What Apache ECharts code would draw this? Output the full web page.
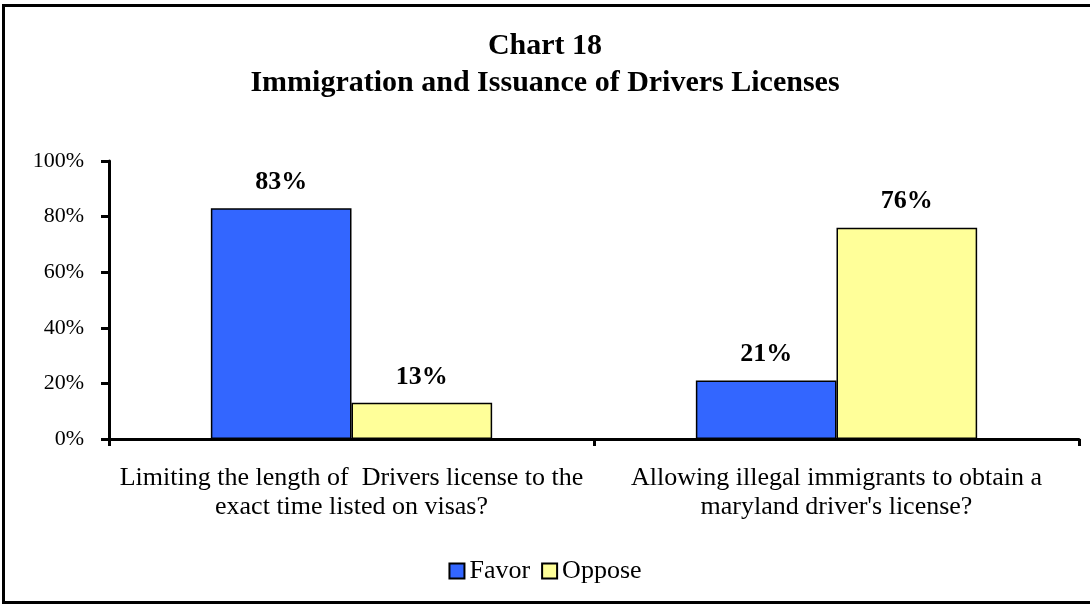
<!DOCTYPE html>
<html>
<head>
<meta charset="utf-8">
<script src="https://cdn.jsdelivr.net/npm/echarts@6/dist/echarts.min.js"></script>
<style>
  html, body { margin: 0; padding: 0; background: #fff; }
  #chart { width: 1090px; height: 604px; }
</style>
</head>
<body>
<div id="chart"></div>
<script>
const categories = [
  "Limiting the length of  Drivers license to the\nexact time listed on visas?",
  "Allowing illegal immigrants to obtain a\nmaryland driver's license?",
];
const favor = [83, 21];
const oppose = [13, 76];
const yTicks = [0, 20, 40, 60, 80, 100];

const serif = "'Liberation Serif', 'DejaVu Serif', serif";

const chart = echarts.init(document.getElementById("chart"));

const barLabel = {
  show: true,
  position: "top",
  distance: 13,
  formatter: (p) => p.value + "%",
  fontFamily: serif,
  fontWeight: "bold",
  fontSize: 26,
  color: "#000",
};

chart.setOption({
  animation: false,
  backgroundColor: "#fff",
  title: {
    text: "Chart 18\nImmigration and Issuance of Drivers Licenses",
    left: "center",
    top: 23,
    textStyle: {
      fontFamily: serif,
      fontWeight: "bold",
      fontSize: 30,
      lineHeight: 37,
      color: "#000",
    },
  },
  legend: {
    data: ["Favor", "Oppose"],
    top: 553,
    left: "center",
    itemWidth: 15,
    itemHeight: 15,
    itemGap: 11,
    icon: "rect",
    textStyle: { fontFamily: serif, fontSize: 26, color: "#000" },
  },
  grid: { left: 109, right: 11, top: 161, bottom: 165, containLabel: false },
  xAxis: {
    type: "category",
    data: categories,
    axisLine: { lineStyle: { color: "#000", width: 3 } },
    axisTick: { show: true, length: 7, lineStyle: { color: "#000", width: 3 } },
    axisLabel: {
      interval: 0,
      fontFamily: serif,
      fontSize: 26,
      lineHeight: 29,
      color: "#000",
      margin: 25,
    },
  },
  yAxis: {
    type: "value",
    min: yTicks[0],
    max: yTicks[yTicks.length - 1],
    interval: 20,
    axisLine: { show: true, lineStyle: { color: "#000", width: 3 } },
    axisTick: { show: true, length: 8, lineStyle: { color: "#000", width: 3 } },
    splitLine: { show: false },
    axisLabel: {
      fontFamily: serif,
      fontSize: 22,
      color: "#000",
      margin: 25,
      formatter: (v) => v + "%",
    },
  },
  series: [
    {
      name: "Favor",
      type: "bar",
      data: favor,
      barGap: "0%",
      barCategoryGap: "42%",
      itemStyle: { color: "#3366ff", borderColor: "#000", borderWidth: 1.5 },
      label: barLabel,
    },
    {
      name: "Oppose",
      type: "bar",
      data: oppose,
      itemStyle: { color: "#ffff99", borderColor: "#000", borderWidth: 1.5 },
      label: barLabel,
    },
  ],
  graphic: [
    {
      type: "rect",
      shape: { x: 3.5, y: 5.5, width: 1095, height: 597 },
      style: { fill: "none", stroke: "#000", lineWidth: 3 },
      silent: true,
    },
  ],
});
</script>
</body>
</html>
